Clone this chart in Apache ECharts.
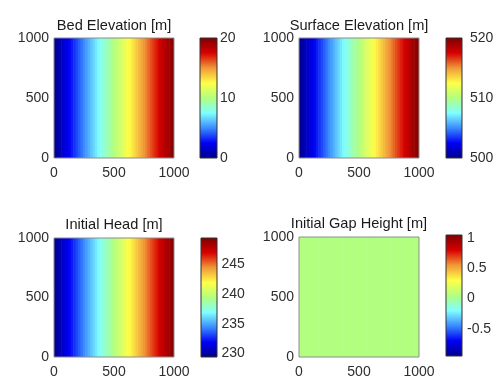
<!DOCTYPE html>
<html>
<head>
<meta charset="utf-8">
<script src="https://cdn.jsdelivr.net/npm/echarts@6/dist/echarts.min.js"></script>
<style>html,body{margin:0;padding:0;background:#fff}#c{width:500px;height:384px}</style>
</head>
<body>
<div id="c"></div>
<script>
// ---- data ----
const xEdges = [0,20,40,60,80,100,120,140,160,180,200,220,240,260,280,300,320,340,360,380,400,420,440,460,480,500,520,540,560,580,600,620,640,660,680,700,720,740,760,780,800,820,840,860,880,900,920,940,960,980,1000];
const yEdges = [0, 1000];
const bedElevation = [0.2,0.6,1.0,1.4,1.8,2.2,2.6,3.0,3.4,3.8,4.2,4.6,5.0,5.4,5.8,6.2,6.6,7.0,7.4,7.8,8.2,8.6,9.0,9.4,9.8,10.2,10.6,11.0,11.4,11.8,12.2,12.6,13.0,13.4,13.8,14.2,14.6,15.0,15.4,15.8,16.2,16.6,17.0,17.4,17.8,18.2,18.6,19.0,19.4,19.8];
const surfaceElevation = [500.2,500.6,501.0,501.4,501.8,502.2,502.6,503.0,503.4,503.8,504.2,504.6,505.0,505.4,505.8,506.2,506.6,507.0,507.4,507.8,508.2,508.6,509.0,509.4,509.8,510.2,510.6,511.0,511.4,511.8,512.2,512.6,513.0,513.4,513.8,514.2,514.6,515.0,515.4,515.8,516.2,516.6,517.0,517.4,517.8,518.2,518.6,519.0,519.4,519.8];
const initialHead = [229.6,230.0,230.4,230.8,231.2,231.6,232.0,232.4,232.8,233.2,233.6,234.0,234.4,234.8,235.2,235.6,236.0,236.4,236.8,237.2,237.6,238.0,238.4,238.8,239.2,239.6,240.0,240.4,240.8,241.2,241.6,242.0,242.4,242.8,243.2,243.6,244.0,244.4,244.8,245.2,245.6,246.0,246.4,246.8,247.2,247.6,248.0,248.4,248.8,249.2];
const gapHeight = [0.05,0.05,0.05,0.05,0.05,0.05,0.05,0.05,0.05,0.05,0.05,0.05,0.05,0.05,0.05,0.05,0.05,0.05,0.05,0.05,0.05,0.05,0.05,0.05,0.05,0.05,0.05,0.05,0.05,0.05,0.05,0.05,0.05,0.05,0.05,0.05,0.05,0.05,0.05,0.05,0.05,0.05,0.05,0.05,0.05,0.05,0.05,0.05,0.05,0.05];

const titles = ['Bed Elevation [m]', 'Surface Elevation [m]', 'Initial Head [m]', 'Initial Gap Height [m]'];
const colorRanges = [[0, 20], [500, 520], [229.4, 249.4], [-0.95, 1.05]];
const colorTicks = [[0, 10, 20], [500, 510, 520], [230, 235, 240, 245], [-0.5, 0, 0.5, 1]];

// ---- style / layout ----
const jet = ['#00008c','#0000f5','#3a8cff','#80ffff','#b2ff80','#ffff48','#f09838','#d80000','#800000'];
const plotBoxes = [[54,38,120,120],[299,38,120,120],[54,238,120,119],[299,237,120,120]];
const barBoxes = [[200,38,17,120],[446,38,16,120],[201,238,16,119],[446,235,16,121]];
const barLabelMargin = [3, 8, 4.5, 5];
const titlePos = [[114,26],[359,26],[114,225],[359,224]];
const FONT = '"Liberation Sans", Arial, Helvetica, sans-serif';
const fields = [bedElevation, surfaceElevation, initialHead, gapHeight];
const plain = v => String(v);

const grid = [], xAxis = [], yAxis = [], series = [], visualMap = [], graphic = [];
fields.forEach((vals, i) => {
  const p = plotBoxes[i], b = barBoxes[i];
  grid.push({left:p[0], top:p[1], width:p[2], height:p[3], show:true, borderColor:'#8c8c8c', borderWidth:1, backgroundColor:'transparent', z:3});
  grid.push({left:b[0], top:b[1], width:b[2], height:b[3], show:true, borderColor:'#333', borderWidth:1, backgroundColor:'transparent', z:3});
  const lab = {color:'#2e2e2e', fontSize:14, fontFamily:FONT, formatter:plain};
  xAxis.push({type:'value', gridIndex:2*i, min:0, max:1000, interval:500,
    axisLine:{show:false}, axisTick:{show:false}, splitLine:{show:false},
    axisLabel:Object.assign({margin:8}, lab)});
  yAxis.push({type:'value', gridIndex:2*i, min:0, max:1000, interval:500,
    axisLine:{show:false}, axisTick:{show:false}, splitLine:{show:false},
    axisLabel:Object.assign({margin:5, padding:[3,0,0,0]}, lab)});
  xAxis.push({type:'value', gridIndex:2*i+1, min:0, max:1, show:false});
  yAxis.push({type:'value', gridIndex:2*i+1, position:'right', min:colorRanges[i][0], max:colorRanges[i][1],
    axisLine:{show:false}, splitLine:{show:false}, axisTick:{show:false},
    axisLabel:Object.assign({margin:barLabelMargin[i], customValues:colorTicks[i], showMinLabel:true, showMaxLabel:true}, lab)});
  const data = vals.map((v, k) => [xEdges[k], xEdges[k+1], yEdges[0], yEdges[1], v]);
  series.push({type:'custom', xAxisIndex:2*i, yAxisIndex:2*i, z:1, clip:true,
    encode:{x:[0,1], y:[2,3]}, data:data,
    renderItem:(params, api) => {
      const a = api.coord([api.value(0), api.value(3)]);
      const c = api.coord([api.value(1), api.value(2)]);
      return {type:'rect', shape:{x:a[0], y:a[1], width:c[0]-a[0]+0.6, height:c[1]-a[1]},
        style:{fill:api.visual('color')}};
    }});
  series.push({type:'custom', xAxisIndex:2*i+1, yAxisIndex:2*i+1, z:1, clip:true,
    encode:{y:[0,1]}, data:[[colorRanges[i][0], colorRanges[i][1]]],
    renderItem:(params, api) => {
      const a = api.coord([0, api.value(1)]);
      const c = api.coord([1, api.value(0)]);
      const stops = jet.map((col, k) => ({offset:k/(jet.length-1), color:col}));
      return {type:'rect', shape:{x:a[0], y:a[1], width:c[0]-a[0], height:c[1]-a[1]},
        style:{fill:new echarts.graphic.LinearGradient(0,1,0,0,stops)}};
    }});
  visualMap.push({type:'continuous', show:false, seriesIndex:2*i, dimension:4,
    min:colorRanges[i][0], max:colorRanges[i][1], inRange:{color:jet}});
  graphic.push({type:'text', x:titlePos[i][0], y:titlePos[i][1], z:10,
    style:{text:titles[i], fill:'#1a1a1a', font:'14.6px ' + FONT, align:'center', verticalAlign:'middle', textAlign:'center', textVerticalAlign:'middle'}});
});

const chart = echarts.init(document.getElementById('c'), null, {renderer:'canvas'});
chart.setOption({animation:false, backgroundColor:'#fff', grid, xAxis, yAxis, series, visualMap, graphic});
</script>
</body>
</html>
